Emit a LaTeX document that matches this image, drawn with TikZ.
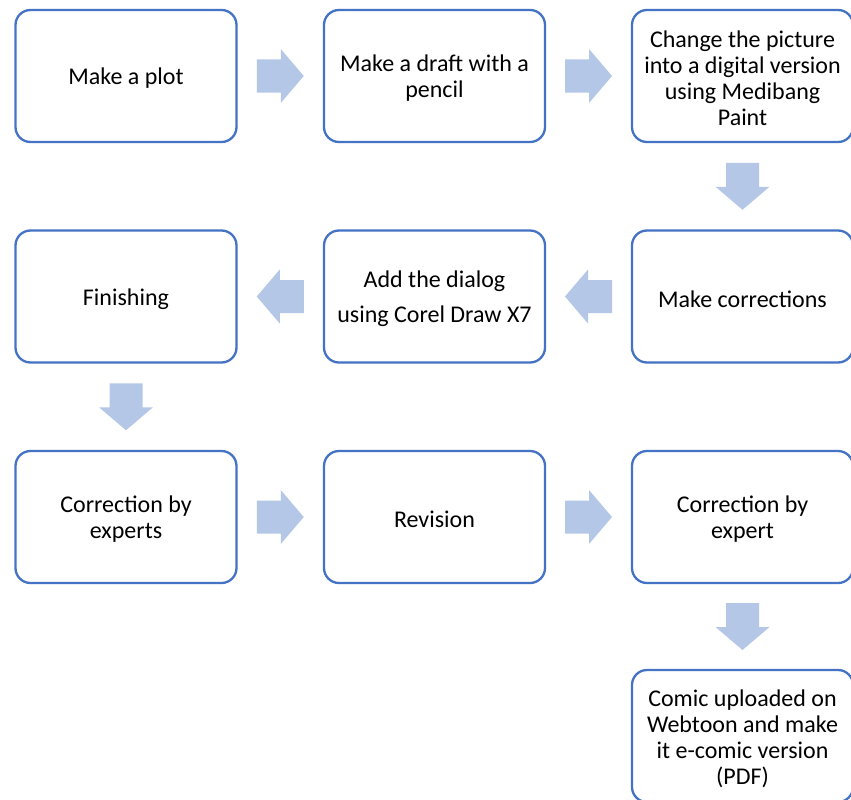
\documentclass[tikz,border=0pt]{standalone}
\usepackage{fontspec}
\setmainfont{Carlito}
\usetikzlibrary{calc}
\definecolor{boxblue}{HTML}{4472C4}
\definecolor{arrowblue}{HTML}{B4C7E7}
\tikzset{
  stepbox/.style={draw=boxblue, line width=2.3pt, rounded corners=15pt, fill=white,
    minimum width=221pt, minimum height=132pt, inner sep=0pt},
  steptext/.style={align=center, inner sep=0pt, yshift=-2.5pt,
    font=\fontsize{24}{26}\selectfont},
  blockarrow/.pic={\fill[arrowblue] (-23.5,-16.5) -- (0.5,-16.5) -- (0.5,-27) -- (23.5,0)
     -- (0.5,27) -- (0.5,16.5) -- (-23.5,16.5) -- cycle;}
}
\begin{document}
\begin{tikzpicture}[x=1pt,y=-1pt]
\useasboundingbox (0,0) rectangle (851,800);
\fill[white] (0,0) rectangle (851,800);
% row 1
\node[stepbox, label={[steptext]center:Make a plot}] (a1) at (126,76) {};
\node[stepbox, label={[steptext]center:Make a draft with a\\pencil}] (a2) at (434.5,76) {};
\node[stepbox, label={[steptext]center:Change the picture\\into a digital version\\using Medibang\\Paint}] (a3) at (742.5,76) {};
% row 2
\node[stepbox, label={[steptext]center:Make corrections}] (b3) at (742.5,296.5) {};
\node[stepbox, label={[steptext]center:Add the dialog\\[9pt]using Corel Draw X7}] (b2) at (434.5,296.5) {};
\node[stepbox, label={[steptext]center:Finishing}] (b1) at (126,296.5) {};
% row 3
\node[stepbox, label={[steptext]center:Correction by\\experts}] (c1) at (126,517) {};
\node[stepbox, label={[steptext]center:Revision}] (c2) at (434.5,517) {};
\node[stepbox, label={[steptext]center:Correction by\\expert}] (c3) at (742.5,517) {};
% row 4
\node[stepbox, label={[steptext]center:Comic uploaded on\\Webtoon and make\\it e-comic version\\(PDF)}] (d3) at (742.5,736) {};
% block arrows
\path ($(a1.east)!0.5!(a2.west)$) pic {blockarrow};
\path ($(a2.east)!0.5!(a3.west)$) pic {blockarrow};
\path ($(a3.south)!0.5!(b3.north)$) pic[rotate=-90] {blockarrow};
\path ($(b3.west)!0.5!(b2.east)$) pic[rotate=180] {blockarrow};
\path ($(b2.west)!0.5!(b1.east)$) pic[rotate=180] {blockarrow};
\path ($(b1.south)!0.5!(c1.north)$) pic[rotate=-90] {blockarrow};
\path ($(c1.east)!0.5!(c2.west)$) pic {blockarrow};
\path ($(c2.east)!0.5!(c3.west)$) pic {blockarrow};
\path ($(c3.south)!0.5!(d3.north)$) pic[rotate=-90] {blockarrow};
\end{tikzpicture}
\end{document}
